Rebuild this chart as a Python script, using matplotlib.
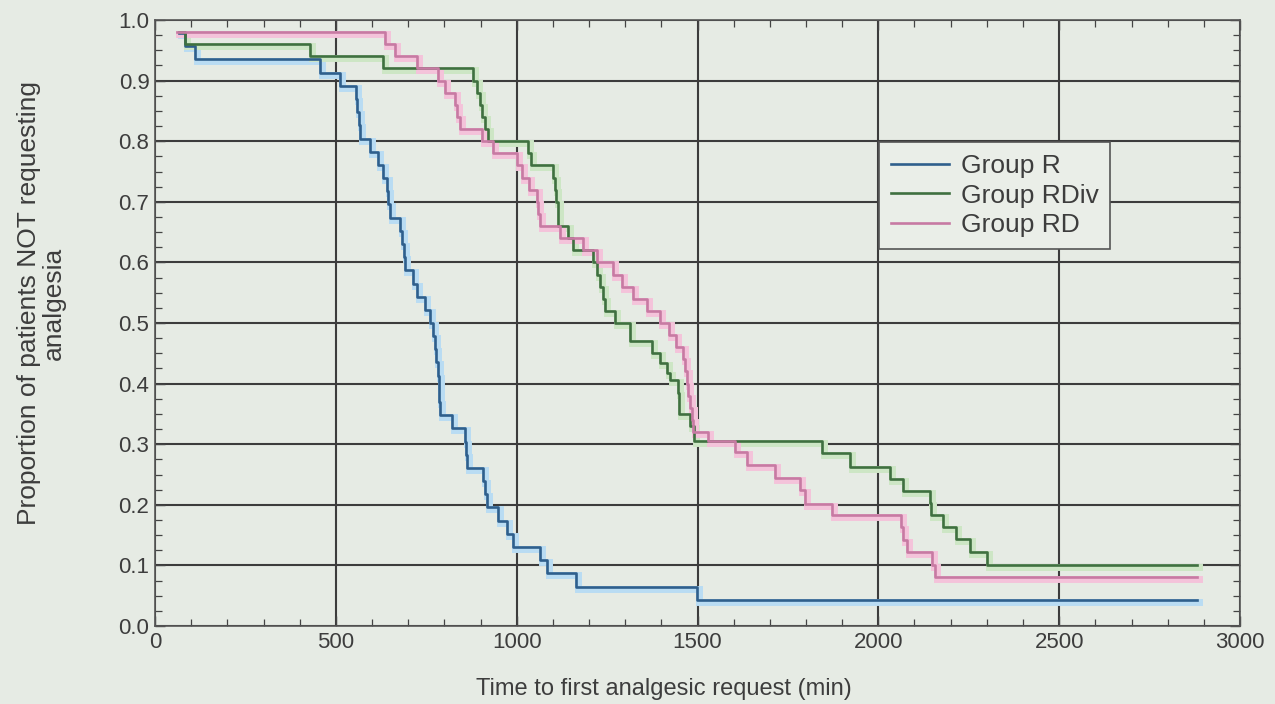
import matplotlib
matplotlib.use("Agg")
import matplotlib.pyplot as plt
from matplotlib import font_manager as fm
from matplotlib.ticker import MultipleLocator
import matplotlib.transforms as mtrans

# ---------------- data ----------------
end_time = 2880

r_times = [65, 82, 110, 456, 511, 555, 559, 563, 567, 595, 617, 630, 641, 645, 650,
           677, 684, 688, 691, 713, 724, 747, 760, 769, 774, 778, 782, 784, 786, 788,
           821, 857, 860, 863, 907, 912, 918, 948, 973, 990, 1065, 1084, 1165, 1499]
r_surv = [0.978, 0.957, 0.935, 0.913, 0.891, 0.870, 0.848, 0.826, 0.804, 0.783, 0.761,
          0.739, 0.717, 0.696, 0.674, 0.652, 0.630, 0.609, 0.587, 0.565, 0.543, 0.522,
          0.500, 0.478, 0.457, 0.435, 0.413, 0.391, 0.370, 0.348, 0.326, 0.304, 0.283,
          0.261, 0.239, 0.217, 0.196, 0.174, 0.152, 0.130, 0.109, 0.087, 0.065, 0.043]

rdiv_times = [65, 82, 429, 631, 880, 890, 899, 905, 912, 922, 1032, 1041, 1101, 1106, 1110,
              1113, 1115, 1143, 1157, 1211, 1222, 1230, 1239, 1244, 1272, 1313, 1374, 1396,
              1415, 1424, 1446, 1448, 1450, 1479, 1490, 1843, 1922, 2032, 2069, 2143, 2147,
              2179, 2216, 2253, 2300]
rdiv_surv = [0.98, 0.96, 0.94, 0.92, 0.90, 0.88, 0.86, 0.84, 0.82, 0.80, 0.78, 0.76, 0.74,
             0.72, 0.70, 0.68, 0.66, 0.64, 0.62, 0.60, 0.58, 0.56, 0.54, 0.52, 0.50, 0.47,
             0.45, 0.434, 0.417, 0.406, 0.385, 0.365, 0.35, 0.33, 0.305, 0.285, 0.263,
             0.243, 0.223, 0.203, 0.183, 0.163, 0.143, 0.122, 0.10]

rd_times = [60, 636, 664, 724, 783, 802, 829, 834, 843, 904, 935, 1001, 1015, 1035, 1056,
            1060, 1064, 1120, 1183, 1222, 1267, 1290, 1322, 1360, 1395, 1420, 1440, 1460,
            1466, 1471, 1475, 1479, 1484, 1488, 1530, 1604, 1637, 1714, 1783, 1797, 1871,
            2064, 2068, 2079, 2148, 2157]
rd_surv = [0.98, 0.96, 0.94, 0.92, 0.90, 0.88, 0.86, 0.84, 0.82, 0.80, 0.78, 0.76, 0.74,
           0.72, 0.70, 0.68, 0.66, 0.64, 0.62, 0.60, 0.58, 0.56, 0.54, 0.52, 0.50, 0.48,
           0.46, 0.44, 0.42, 0.40, 0.38, 0.36, 0.34, 0.32, 0.305, 0.287, 0.266, 0.245,
           0.224, 0.202, 0.183, 0.163, 0.142, 0.122, 0.10, 0.081]

group_labels = ["Group R", "Group RDiv", "Group RD"]
x_ticks = [0, 500, 1000, 1500, 2000, 2500, 3000]
y_ticks = [0.0, 0.1, 0.2, 0.3, 0.4, 0.5, 0.6, 0.7, 0.8, 0.9, 1.0]

# ---------------- style ----------------
names = {f.name for f in fm.fontManager.ttflist}
font = "Liberation Sans Narrow" if "Liberation Sans Narrow" in names else "Liberation Sans"
plt.rcParams["font.family"] = [font, "DejaVu Sans"]

bg = "#e6ebe4"
txt = "#3d3d3d"
colors = ["#2f5f8c", "#3f7040", "#c77aa3"]
halos = ["#b9dcf3", "#cde6c5", "#f4c3da"]

fig = plt.figure(figsize=(12.75, 7.04), dpi=100, facecolor=bg)
ax = fig.add_axes([155 / 1275, 78 / 704, 1085 / 1275, 606 / 704])
ax.set_facecolor(bg)

series = [(r_times, r_surv), (rdiv_times, rdiv_surv), (rd_times, rd_surv)]
shift = mtrans.offset_copy(ax.transData, fig=fig, x=2, y=-2, units="dots")
handles = []
for (t, s), c, h, lab in zip(series, colors, halos, group_labels):
    xs = list(t) + [end_time]
    ys = list(s) + [s[-1]]
    ax.step(xs, ys, where="post", color=h, lw=5, transform=shift, zorder=3,
            solid_joinstyle="miter")
    ln, = ax.step(xs, ys, where="post", color=c, lw=1.9, zorder=4, label=lab)
    handles.append(ln)

ax.set_xlim(0, 3000)
ax.set_ylim(0, 1.0)
ax.set_xticks(x_ticks)
ax.set_yticks(y_ticks)
ax.set_xticklabels([str(v) for v in x_ticks])
ax.set_yticklabels([f"{v:.1f}" for v in y_ticks])
ax.xaxis.set_minor_locator(MultipleLocator(100))
ax.yaxis.set_minor_locator(MultipleLocator(0.025))
ax.tick_params(which="both", direction="in", top=True, right=True, color="#444444")
ax.tick_params(which="major", length=7, width=1.0, labelsize=16, labelcolor=txt, pad=4)
ax.tick_params(which="minor", length=5, width=0.9)
ax.grid(True, which="major", color="#3c3c3c", lw=1.5, zorder=1)
ax.set_axisbelow(True)
for sp in ax.spines.values():
    sp.set_color("#555555")
    sp.set_linewidth(1.2)

ax.set_xlabel("Time to first analgesic request (min)", fontsize=17, color=txt)
ax.xaxis.set_label_coords(0.469, -0.085)
ax.set_ylabel("Proportion of patients NOT requesting\nanalgesia", fontsize=19,
              color=txt, linespacing=1.05)
ax.yaxis.set_label_coords(-0.082, 0.533)

leg = ax.legend(handles=handles, loc="upper left", bbox_to_anchor=(0.667, 0.798),
                fontsize=19, frameon=True, fancybox=False, handlelength=2.2,
                handletextpad=0.45, borderpad=0.45, labelspacing=0.2, borderaxespad=0)
leg.get_frame().set_edgecolor("#555555")
leg.get_frame().set_facecolor("#eaeee8")
leg.get_frame().set_linewidth(1.2)
leg.get_frame().set_alpha(1)
for t in leg.get_texts():
    t.set_color(txt)
leg.set_zorder(5)

fig.savefig("out.png", dpi=100, facecolor=bg)
